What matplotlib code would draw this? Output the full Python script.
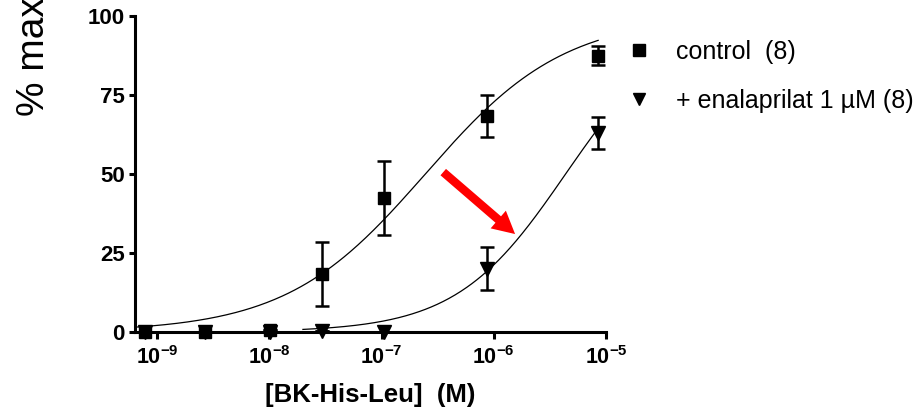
import numpy as np
import matplotlib
matplotlib.use("Agg")
import matplotlib.pyplot as plt

plt.rcParams.update({
    "font.family": ["Liberation Sans", "DejaVu Sans"],
    "mathtext.fontset": "custom",
    "mathtext.rm": "Liberation Sans:bold",
    "mathtext.bf": "Liberation Sans:bold",
    "mathtext.it": "Liberation Sans:bold",
})

# log10 of molar concentration
LOG_CONC = [-9.11, -8.57, -7.99, -7.53, -6.98, -6.06, -5.07]

CONTROL_MEAN = [0.0, 0.0, 0.5, 18.3, 42.4, 68.4, 87.5]
CONTROL_SEM = [0.0, 0.0, 0.0, 10.2, 11.7, 6.7, 2.9]

ENAL_MEAN = [0.0, 0.0, 0.0, 0.3, 0.0, 20.0, 63.0]
ENAL_SEM = [0.0, 0.0, 0.0, 0.0, 0.0, 6.8, 5.0]

# fitted sigmoid (logEC50, Hill slope, top)
CONTROL_FIT = (-6.61, 0.70, 100.0)
ENAL_FIT = (-5.36, 0.89, 100.0)

X_TICKS = [-9, -8, -7, -6, -5]
Y_TICKS = [0, 25, 50, 75, 100]

LABELS = ["control  (8)", "+ enalaprilat 1 \u00b5M (8)"]

# arrow (log x, y) start -> end
ARROW_FROM = (-6.45, 50.6)
ARROW_TO = (-5.81, 31.0)

XMIN_LOG = -9.196


def hill(logx, fit):
    ec50, h, top = fit
    return top / (1 + 10 ** ((ec50 - logx) * h))


fig = plt.figure(figsize=(9.21, 4.09), dpi=100)
ax = fig.add_axes([135 / 921, 77 / 409, 471 / 921, 316 / 409])

# curves
xs = np.linspace(XMIN_LOG, LOG_CONC[-1], 300)
ax.plot(10 ** xs, hill(xs, CONTROL_FIT), color="black", lw=0.9, zorder=2)
xs2 = np.linspace(-7.7, LOG_CONC[-1], 300)
ax.plot(10 ** xs2, hill(xs2, ENAL_FIT), color="black", lw=0.9, zorder=2)

conc = 10 ** np.array(LOG_CONC)

# error bars
ax.errorbar(conc, ENAL_MEAN, yerr=ENAL_SEM, fmt="none", ecolor="black",
            elinewidth=1.8, capsize=5, capthick=1.8, zorder=3, clip_on=False)
ax.errorbar(conc, CONTROL_MEAN, yerr=CONTROL_SEM, fmt="none", ecolor="black",
            elinewidth=1.8, capsize=5, capthick=1.8, zorder=3, clip_on=False)

# markers
ax.plot(conc, ENAL_MEAN, linestyle="none", marker="v", ms=10,
        color="black", label=LABELS[1], zorder=4, clip_on=False)
ax.plot(conc, CONTROL_MEAN, linestyle="none", marker="s", ms=9.3,
        color="black", label=LABELS[0], zorder=5, clip_on=False)

# red arrow
ax.annotate("", xy=(10 ** ARROW_TO[0], ARROW_TO[1]),
            xytext=(10 ** ARROW_FROM[0], ARROW_FROM[1]),
            arrowprops=dict(arrowstyle="simple,head_length=1.0,head_width=1.05,tail_width=0.38",
                            mutation_scale=16, color="#ff0000", lw=0, shrinkA=0, shrinkB=0))

ax.set_xscale("log")
ax.set_xlim(10 ** XMIN_LOG, 1e-5)
ax.set_ylim(0, 100)
ax.set_xticks([10.0 ** t for t in X_TICKS])
ax.set_xticklabels([r"$\mathbf{10^{%d}}$" % t for t in X_TICKS])
ax.xaxis.set_minor_locator(matplotlib.ticker.NullLocator())
ax.set_yticks(Y_TICKS)
ax.set_yticklabels([str(t) for t in Y_TICKS], fontweight="bold")

for s in ["top", "right"]:
    ax.spines[s].set_visible(False)
for s in ["left", "bottom"]:
    ax.spines[s].set_linewidth(2.2)

ax.tick_params(axis="y", length=4.3, width=2.2, pad=3, labelsize=16)
ax.tick_params(axis="x", length=5, width=2.2, pad=5, labelsize=15.5)

ax.set_xlabel("[BK-His-Leu]  (M)", fontsize=18.5, fontweight="bold", labelpad=10)

fig.text(34 / 921, 1 - 116 / 409, "% max", rotation=90, ha="center", va="bottom",
         fontsize=28)

# legend
h, l = ax.get_legend_handles_labels()
order = [1, 0]
leg = fig.legend([h[i] for i in order], [l[i] for i in order],
                 loc="upper left", bbox_to_anchor=(626 / 921, 1 - 40 / 409),
                 frameon=False, fontsize=18, handlelength=1.0, handletextpad=1.0,
                 labelspacing=1.0, markerscale=0.9, borderpad=0, borderaxespad=0)

fig.savefig("out.png", dpi=100)
